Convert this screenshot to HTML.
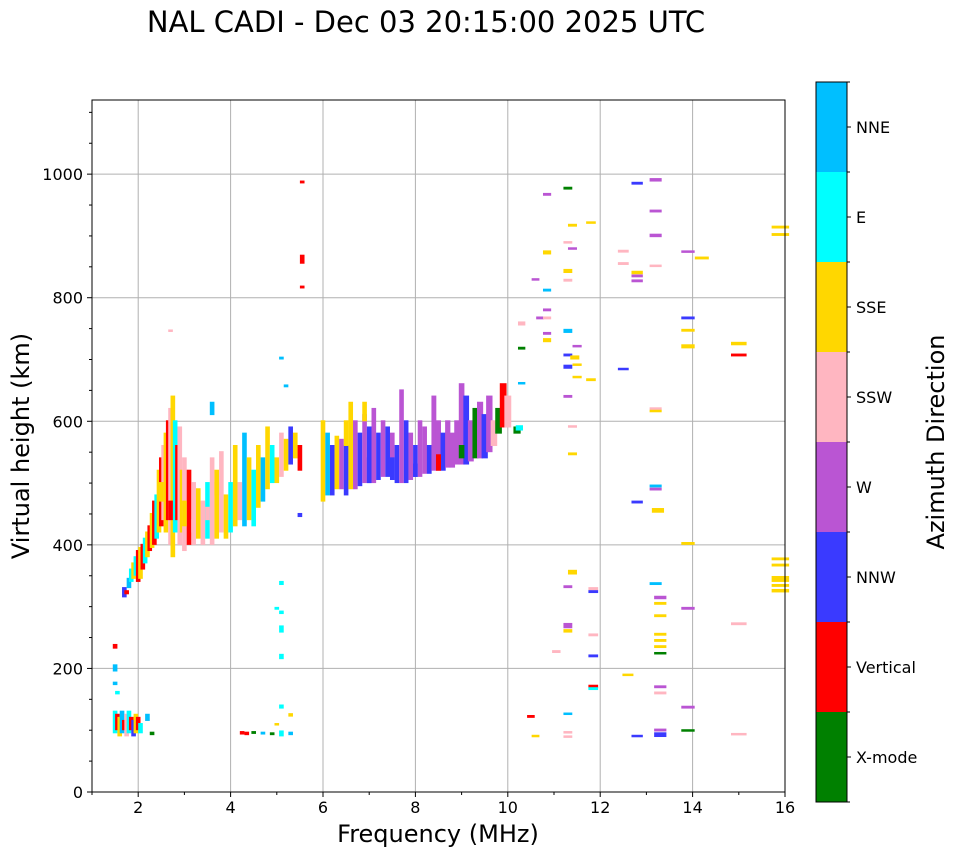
<!DOCTYPE html>
<html><head><meta charset="utf-8">
<style>
body{margin:0;background:#fff;}
svg text{font-family:"DejaVu Sans","Liberation Sans",sans-serif;}
</style></head>
<body>
<svg id="chart" width="958" height="857" xmlns="http://www.w3.org/2000/svg">
<text x="426" y="32" font-size="29" text-anchor="middle">NAL CADI - Dec 03 20:15:00 2025 UTC</text>
<g id="grid"></g>
<g id="marks"></g>
<rect x="92" y="100" width="693" height="692" fill="none" stroke="#000" stroke-width="1"/>
<g id="axes"></g>
<text x="438" y="842" font-size="24" text-anchor="middle">Frequency (MHz)</text>
<text transform="translate(29,446) rotate(-90)" font-size="24" text-anchor="middle">Virtual height (km)</text>
<g id="cbar"></g>
<text transform="translate(944,442) rotate(-90)" font-size="24" text-anchor="middle">Azimuth Direction</text>
</svg>
<script>
const categories = ["X-mode","Vertical","NNW","W","SSW","SSE","E","NNE"];
const catColors = ["#008000","#ff0000","#3a3aff","#ba55d3","#ffb6c1","#ffd700","#00ffff","#00bfff"];
const xTicks = [2,4,6,8,10,12,14,16];
const yTicks = [0,200,400,600,800,1000];
// echoes: [frequency MHz, height low km, height high km, category index]
const echoes = [
[1.5,95,130,6],[1.55,100,125,1],[1.6,90,120,5],[1.65,95,130,7],[1.7,100,115,1],[1.75,90,125,4],[1.8,95,130,6],[1.85,100,120,1],[1.9,90,115,2],[1.95,95,125,5],[2.0,100,120,1],[2.05,95,110,6],[2.2,115,125,7],[2.3,92,96,0],
[1.5,232,238,1],[1.5,195,205,7],[1.5,173,177,7],[1.55,158,162,6],
[1.7,315,330,2],[1.75,320,325,1],[1.8,330,345,7],[1.85,340,360,6],[1.9,345,370,5],[1.95,350,380,6],[2.0,340,390,1],[2.05,345,395,5],[2.1,360,400,1],[2.15,370,410,6],[2.2,380,420,5],[2.25,390,430,1],[2.3,395,450,5],[2.35,400,470,1],[2.4,410,480,6],[2.45,420,520,5],[2.5,430,540,1],[2.55,440,560,4],[2.6,420,580,5],[2.65,440,600,1],[2.7,400,620,4],[2.75,380,640,5],[2.8,420,600,6],[2.85,440,560,1],[2.9,400,590,4],[2.95,420,520,5],[3.0,390,540,4],[3.1,400,520,1],[3.2,400,500,4],[3.3,410,490,5],[3.4,400,470,4],[3.5,410,500,6],[3.6,400,540,4],[3.7,410,520,5],[3.8,420,550,4],[3.9,410,480,5],[4.0,420,500,6],[4.1,430,560,5],[4.2,440,500,4],[4.3,430,580,7],[4.4,440,540,5],[4.5,430,520,6],[4.6,460,560,5],[4.7,470,540,7],[4.8,490,590,5],[4.9,500,560,6],[5.0,500,540,5],[5.1,510,580,4],[5.2,520,570,5],[5.3,530,590,2],[5.4,540,580,5],[5.5,520,560,1],
[2.5,470,500,5],[2.7,440,470,1],[3.0,430,470,5],[3.2,420,440,4],[3.5,440,460,4],[3.6,610,630,7],[3.7,480,500,5],
[6.0,470,600,5],[6.1,480,580,7],[6.2,480,560,2],[6.3,490,575,5],[6.4,490,570,3],[6.5,480,560,2],[6.6,490,630,5],[6.7,490,600,3],[6.8,495,580,2],[6.9,500,610,3],[7.0,500,590,2],[7.1,500,620,3],[7.2,505,580,2],[7.3,510,600,3],[7.4,510,590,2],[7.5,505,580,3],[7.6,500,560,2],[7.7,500,650,3],[7.8,500,600,2],[7.9,505,580,3],[8.0,510,560,2],[8.1,510,600,3],[8.2,515,590,3],[8.3,515,560,2],[8.4,520,640,3],[8.5,520,600,3],[8.6,520,580,2],[8.7,525,600,3],[8.8,525,580,3],[8.9,530,600,3],[9.0,530,660,3],[9.1,530,640,2],[9.2,535,600,3],[9.3,540,620,0],[9.4,540,630,3],[9.5,540,610,2],[9.6,550,640,3],[9.7,560,600,4],[9.8,580,620,0],[9.9,590,660,1],[10.0,590,640,4],
[7.0,500,540,2],[7.5,505,540,2],[8.0,510,530,2],[8.5,520,545,1],[9.0,540,560,0],[6.5,560,600,5],[6.9,600,630,5],
[10.2,580,590,0],[10.25,585,592,6],[10.3,660,662,7],
[5.55,985,988,1],[5.55,855,868,1],[5.55,815,818,1],[5.1,700,703,7],[5.2,655,658,7],[5.5,445,450,2],[5.1,335,340,6],[5.0,295,298,6],[5.1,288,292,6],[5.1,258,268,6],[5.1,215,222,6],[5.1,135,140,6],[5.3,122,126,5],[5.3,92,96,7],[5.0,108,110,5],[5.1,90,98,6],[4.25,93,97,1],[4.35,92,96,1],[4.5,94,97,0],[4.7,93,96,7],[4.9,92,95,0],
[10.3,755,760,4],[10.3,716,719,0],[10.6,828,830,3],[10.7,765,768,3],[10.85,965,968,3],[10.85,870,875,5],[10.85,810,813,7],[10.85,778,781,3],[10.85,765,768,4],[10.85,728,733,5],[10.85,740,743,3],[11.3,975,978,0],[11.3,888,890,4],[11.3,840,845,5],[11.3,826,829,4],[11.3,743,748,7],[11.3,705,708,2],[11.3,685,690,2],[11.3,638,641,3],[11.4,915,918,5],[11.4,878,880,3],[11.45,700,705,5],[11.5,720,722,3],[11.5,690,692,5],[11.5,670,672,5],[11.8,920,922,5],[11.8,665,668,5],[11.4,590,592,4],[11.4,545,548,5],[11.4,352,358,5],[11.3,330,333,3],[11.3,265,272,3],[11.3,258,262,5],[11.05,225,228,4],[11.3,125,127,7],[11.3,95,97,4],[11.3,88,90,4],[10.5,120,123,1],[10.6,89,91,5],
[11.85,325,330,4],[11.85,322,325,2],[11.85,252,255,4],[11.85,218,221,2],[11.85,168,172,1],[11.85,165,168,6],
[12.5,683,685,2],[12.5,873,876,4],[12.5,853,856,4],[12.8,983,986,2],[12.8,838,842,5],[12.8,833,836,3],[12.8,825,828,3],[13.2,988,992,3],[13.2,938,941,3],[13.2,898,902,3],[13.2,850,852,4],[13.2,618,621,4],[13.2,615,617,5],[13.2,493,496,7],[13.2,488,491,3],[13.25,452,458,5],[12.8,467,470,2],[13.2,335,338,7],[13.3,312,316,3],[13.3,303,306,5],[13.3,283,286,5],[13.3,253,256,5],[13.3,243,246,5],[13.3,233,236,5],[13.3,223,225,0],[13.3,168,171,3],[13.3,158,161,4],[12.6,188,190,5],[12.8,89,91,2],[13.3,98,101,3],[13.3,89,95,2],
[13.9,873,875,3],[13.9,765,768,2],[13.9,745,748,5],[13.9,718,723,5],[14.2,862,865,5],[13.9,400,403,5],[13.9,295,298,3],[13.9,135,138,3],[13.9,98,100,0],[15.0,723,727,5],[15.0,705,708,1],[15.0,270,273,4],[15.0,92,94,4],
[15.9,912,915,5],[15.9,900,903,5],[15.9,375,378,5],[15.9,365,368,5],[15.9,340,348,5],[15.9,332,335,5],[15.9,323,327,5],[2.7,745,747,4]
];

const NS="http://www.w3.org/2000/svg";
const X0=92,X1=785,Y0=792,Y1=100,FMIN=1,FMAX=16,HMIN=0,HMAX=1120;
const xs=f=>X0+(f-FMIN)/(FMAX-FMIN)*(X1-X0);
const ys=h=>Y0-(h-HMIN)/(HMAX-HMIN)*(Y0-Y1);
function mk(tag,attrs,parent){const e=document.createElementNS(NS,tag);for(const k in attrs)e.setAttribute(k,attrs[k]);parent.appendChild(e);return e;}
const grid=document.getElementById('grid'),axes=document.getElementById('axes'),marks=document.getElementById('marks'),cbar=document.getElementById('cbar');
xTicks.forEach(t=>{
  const l=mk('line',{x1:xs(t),x2:xs(t),y1:Y1,y2:Y0,stroke:'#b0b0b0','stroke-width':1},grid);
  
  
  const tk=mk('line',{x1:xs(t),x2:xs(t),y1:Y0,y2:Y0+5,stroke:'#000'},axes);
  
  
  const tx=mk('text',{x:xs(t),y:Y0+21,'font-size':16,'text-anchor':'middle'},axes);tx.textContent=t;
  
  
});
for(let t=1;t<=15;t+=2){const m=mk('line',{x1:xs(t),x2:xs(t),y1:Y0,y2:Y0+3,stroke:'#000'},axes);
  
  }
yTicks.forEach(t=>{
  if(t>0){const l=mk('line',{x1:X0,x2:X1,y1:ys(t),y2:ys(t),stroke:'#b0b0b0','stroke-width':1},grid);
  
  }
  const tk=mk('line',{x1:X0-5,x2:X0,y1:ys(t),y2:ys(t),stroke:'#000'},axes);
  
  
  const tx=mk('text',{x:X0-9,y:ys(t)+6,'font-size':16,'text-anchor':'end'},axes);tx.textContent=t;
  
  
});
for(let t=50;t<=1100;t+=50){if(t%200){const m=mk('line',{x1:X0-3,x2:X0,y1:ys(t),y2:ys(t),stroke:'#000'},axes);
  
  }}
echoes.forEach(e=>{
  const [f,h0,h1,c]=e;
  const w=Math.max(0.1,0.0015*f*f);
  const x=xs(f-w/2),x2=xs(f+w/2);
  const yTop=ys(h1),yBot=ys(h0);
  const r=mk('rect',{x:x,y:yTop-1,width:Math.max(2,x2-x),height:Math.max(2.5,yBot-yTop+1),fill:catColors[c]},marks);
  
  
});
const CB0=82,CB1=802,CX=816,CW=31,band=(CB1-CB0)/categories.length;
categories.forEach((n,i)=>{
  const y=CB1-(i+1)*band;
  const r=mk('rect',{x:CX,y:y,width:CW,height:band,fill:catColors[i]},cbar);
  
  
  const t=mk('text',{x:CX+CW+9,y:y+band/2+6,'font-size':16},cbar);t.textContent=n;
  
  
  const tk=mk('line',{x1:CX+CW,x2:CX+CW+4,y1:y+band/2,y2:y+band/2,stroke:'#000'},cbar);
  
  
});
for(let i=0;i<=categories.length;i++){const y=CB1-i*band;const m=mk('line',{x1:CX+CW,x2:CX+CW+3,y1:y,y2:y,stroke:'#000'},cbar);
  
  }
const fr=mk('rect',{x:CX,y:CB0,width:CW,height:CB1-CB0,fill:'none',stroke:'#000'},cbar);


</script>
</body></html>
